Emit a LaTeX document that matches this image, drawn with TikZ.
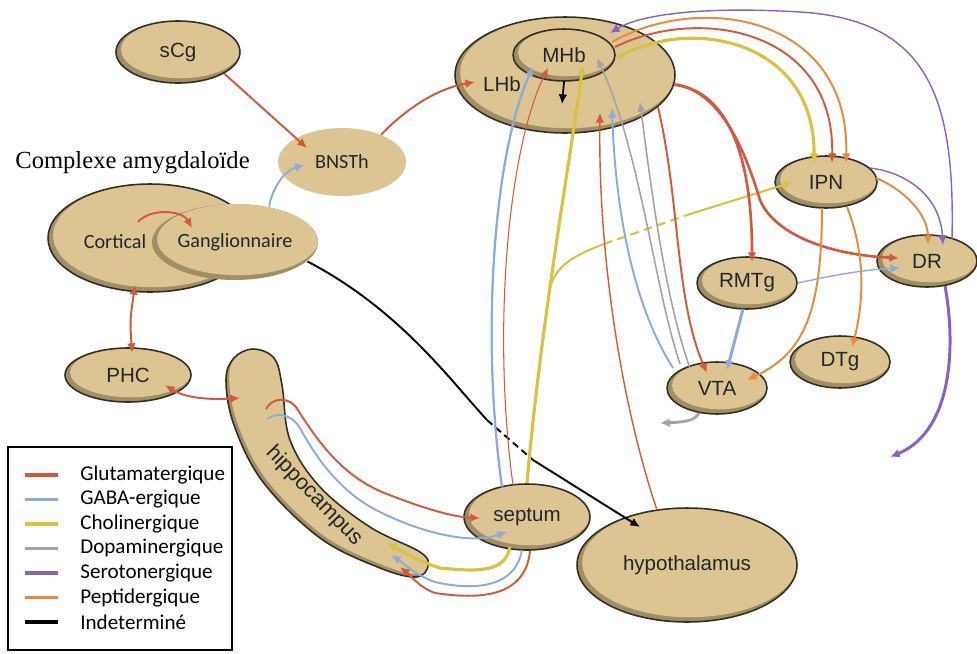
\documentclass[tikz,border=0pt]{standalone}
\usepackage{fontspec}
\newfontfamily\arialf{Liberation Sans}
\newfontfamily\calibf{Carlito}
\newfontfamily\timesf{Liberation Serif}
\usetikzlibrary{shapes.geometric,arrows.meta,calc}

\definecolor{tanc}{RGB}{220,197,147}
\definecolor{tanshade}{RGB}{160,142,100}
\definecolor{rimc}{RGB}{50,46,38}
\definecolor{glutc}{RGB}{212,88,58}
\definecolor{gabac}{RGB}{141,171,216}
\definecolor{cholc}{RGB}{214,195,62}
\definecolor{dopac}{RGB}{163,163,163}
\definecolor{seroc}{RGB}{136,98,194}
\definecolor{peptc}{RGB}{230,138,60}

\newcommand{\hippath}{plot[smooth cycle, tension=0.6] coordinates {(253,349) (274,358) (282,385) (290,440) (320,487) (370,527) (420,552) (428,566) (416,577) (380,568) (320,538) (263,482) (234,425) (226,380) (234,358)}}

\begin{document}
\begin{tikzpicture}[x=0.02cm, y=-0.02cm, >={Latex[length=5.5pt,width=5pt]}]
    \tikzset{region/.style={ellipse, draw=rimc, line width=0.9pt, fill=tanshade, inner sep=0pt,
        font=\arialf\fontsize{11.7}{13}\selectfont, text=black!85,
        path picture={
          \path (path picture bounding box.south west) coordinate (pa)
                (path picture bounding box.north east) coordinate (pb);
          \fill[tanc] let \p1=($(pb)-(pa)$) in
            ($(pa)!0.5!(pb)+(1.6pt,1.4pt)$) ellipse ({0.5*\x1-1.3pt} and {0.5*\y1-1.3pt});}}}
    \tikzset{flat/.style={ellipse, fill=tanc, inner sep=0pt, text=black!85,
        font=\calibf\fontsize{11.5}{13}\selectfont}}
    \tikzset{lbl/.style={inner sep=1pt, text=black!85, font=\arialf\fontsize{11.7}{13}\selectfont}}
    \tikzset{glut/.style={draw=glutc, line width=1.1pt}}
    \tikzset{gaba/.style={draw=gabac, line width=1.1pt}}
    \tikzset{chol/.style={draw=cholc, line width=1.8pt}}
    \tikzset{dopa/.style={draw=dopac, line width=0.9pt}}
    \tikzset{sero/.style={draw=seroc, line width=0.8pt}}
    \tikzset{pept/.style={draw=peptc, line width=1.1pt}}
    \tikzset{indet/.style={draw=black, line width=1.1pt}}
    \tikzset{legtext/.style={anchor=west, inner sep=0pt, font=\calibf\fontsize{12}{14}\selectfont}}
    \useasboundingbox (0,0) rectangle (977,653);

    % regions
    \node[region, minimum width=2.48cm, minimum height=1.24cm] (sCg) at (178,52) {sCg};
    \node[flat, minimum width=2.56cm, minimum height=1.36cm] (BNSTh) at (342,162) {BNSTh};
    \node[region, minimum width=4.08cm, minimum height=2.16cm] (amyg) at (150,238) {};
    \node[region, draw=none, font=\calibf\fontsize{11.5}{13}\selectfont,
          minimum width=3.32cm, minimum height=1.52cm] (gang) at (235,242) {Ganglionnaire};
    \node[lbl, font=\calibf\fontsize{11.5}{13}\selectfont] (cort) at (115,242) {Cortical};
    \node[anchor=base west, inner sep=0pt,
          font=\timesf\fontsize{14}{16}\selectfont] (amygtitle) at (15,168) {Complexe amygdaloïde};
    \node[region, minimum width=2.52cm, minimum height=1.08cm] (PHC) at (128,375) {PHC};

    \fill[tanshade] \hippath;
    \begin{scope}
      \clip \hippath;
      \fill[tanc, shift={(1.8pt,1.6pt)}] \hippath;
    \end{scope}
    \draw[rimc, line width=0.9pt] \hippath;
    \node[lbl, rotate=-46, font=\arialf\fontsize{12.3}{14}\selectfont] (hippo) at (314,496) {hippocampus};

    \node[region, minimum width=2.52cm, minimum height=1.32cm] (septum) at (527,517) {septum};
    \node[region, minimum width=4.4cm, minimum height=2.28cm] (hypo) at (687,565) {hypothalamus};
    \node[region, minimum width=4.4cm, minimum height=2.32cm] (LHb) at (565,75) {};
    \node[region, minimum width=2.04cm, minimum height=1.04cm] (MHb) at (564,55) {MHb};
    \node[lbl] (lhbname) at (502,84) {LHb};
    \node[region, minimum width=2.04cm, minimum height=1.04cm] (IPN) at (826,182) {IPN};
    \node[region, minimum width=2.0cm, minimum height=1.04cm] (DR) at (927,261) {DR};
    \node[region, minimum width=2.0cm, minimum height=1.04cm] (RMTg) at (747,283) {RMTg};
    \node[region, minimum width=2.0cm, minimum height=1.04cm] (DTg) at (840,362) {DTg};
    \node[region, minimum width=2.0cm, minimum height=1.04cm] (VTA) at (717,388) {VTA};

    \coordinate (hipin) at (240,398);
    \coordinate (hiptopr) at (266,409);
    \coordinate (hiptopb) at (267,419);
    \coordinate (hipy) at (387,543);
    \coordinate (hipb) at (391,555);
    \coordinate (hipr) at (400,567);
    \coordinate (serout) at (890,457);
    \coordinate (dopout) at (660,423);

    % amygdala and BNSTh
    \draw[glut, ->] (sCg.-25) -- ($(BNSTh)+(-35,-14)$);
    \draw[glut, ->] (BNSTh.35) .. controls (410,105) and (440,88) .. ($(LHb)+(-90,7)$);
    \draw[gaba, ->] (gang.46) .. controls (272,188) and (285,170) .. ($(BNSTh)+(-37,3)$);
    \draw[glut, ->] ($(amyg)+(-12,-16)$) .. controls (150,208) and (182,210) .. ($(gang)+(-43,-14)$);
    \draw[glut, <->] ($(PHC)+(4,-22)$) .. controls (130,320) .. ($(amyg)+(-15,47)$);
    \draw[glut, <->] ($(PHC)+(37,10)$) .. controls (185,398) and (210,400) .. (hipin);

    % hippocampus and septum
    \draw[glut, ->] (hiptopr) .. controls (272,397) and (290,396) .. (298,410)
        .. controls (320,445) and (345,478) .. (387,494)
        .. controls (415,505) and (450,517) .. ($(septum)+(-47,1)$);
    \draw[gaba, ->] (hiptopb) .. controls (275,413) and (290,412) .. (300,428)
        .. controls (320,465) and (345,495) .. (380,512)
        .. controls (420,532) and (470,545) .. ($(septum)+(-20,15)$);
    \draw[chol, ->] ($(septum)+(-17,30)$) .. controls (505,572) and (480,572) .. (440,568)
        .. controls (420,562) and (400,550) .. (hipy);
    \draw[gaba, ->] ($(septum)+(-5,33)$) .. controls (515,590) and (470,590) .. (435,582)
        .. controls (415,575) and (402,562) .. (hipb);
    \draw[glut, ->] ($(septum)+(3,34)$) .. controls (525,602) and (470,598) .. (435,593)
        .. controls (420,588) and (410,575) .. (hipr);

    % black projection
    \coordinate (bk1) at (487,420);
    \coordinate (bk2) at (533,460);
    \draw[indet] (gang.-15) .. controls (400,310) and (450,380) .. (bk1);
    \draw[indet, dash pattern=on 4pt off 2.5pt] (bk1) -- (bk2);
    \draw[indet, ->] (bk2) -- ($(hypo)+(-47,-38)$);

    % septum to habenula
    \draw[gaba, line width=1.3pt, ->] ($(septum)+(-25,-30)$) .. controls (480,330) and (495,150) .. ($(MHb)+(-31,12)$);
    \draw[glut, line width=0.6pt, ->] ($(septum)+(-14,-32)$) .. controls (492,330) and (508,150) .. ($(MHb)+(-16,13)$);
    \draw[chol, ->] (septum.north) .. controls (540,330) and (570,160)
        .. coordinate[pos=0.42] (chbr) ($(MHb)+(19,10)$);
    \coordinate (ch1) at (604,244);
    \coordinate (ch2) at (690,214);
    \draw[chol, line width=1.2pt] (chbr) .. controls (556,265) and (575,255) .. (ch1);
    \draw[chol, line width=1.2pt, dash pattern=on 5pt off 3pt] (ch1) -- (ch2);
    \draw[chol, line width=1.2pt, ->] (ch2) -- ($(IPN)+(-33,0)$);

    % VTA and hypothalamus to habenula
    \draw[glut, line width=0.8pt, ->] ($(hypo)+(-30,-55)$) .. controls (620,400) and (598,250) .. ($(LHb)+(35,38)$);
    \draw[gaba, ->] ($(VTA)+(-44,-20)$) .. controls (630,300) and (615,200) .. ($(LHb)+(47,33)$);
    \draw[dopa, ->] ($(VTA)+(-37,-24)$) .. controls (655,290) and (640,150) .. ($(MHb)+(33,3)$);
    \draw[dopa, ->] ($(VTA)+(-27,-20)$) .. controls (665,300) and (650,180) .. ($(LHb)+(75,27)$);
    \draw[glut, ->] (LHb.-19) .. controls (680,200) and (675,300) .. ($(VTA)+(-10,-15)$);

    % habenula outputs
    \draw[glut, line width=1.5pt, ->] (LHb.-5) .. controls (720,90) and (752,140) .. ($(RMTg)+(5,-21)$);
    \draw[glut, line width=1.5pt, ->] (LHb.-5) .. controls (720,90) and (745,150) .. (760,200)
        .. controls (775,235) and (830,255) .. ($(DR)+(-28,-3)$);
    \draw[chol, ->] ($(MHb)+(53,3)$) .. controls (690,15) and (815,40) .. ($(IPN)+(-12,-19)$);
    \draw[glut, ->] ($(MHb)+(51,-8)$) .. controls (700,5) and (835,30) .. ($(IPN)+(6,-19)$);
    \draw[pept, ->] ($(MHb)+(48,-13)$) .. controls (700,-8) and (850,15) .. ($(IPN)+(20,-19)$);
    \draw[sero, ->] ($(DR)+(25,-22)$) .. controls (955,100) and (930,20) .. (800,12)
        .. controls (700,6) and (640,15) .. ($(LHb)+(45,-42)$);

    % IPN, RMTg, DR
    \draw[sero, ->] ($(IPN)+(44,-14)$) .. controls (905,172) and (940,195) .. ($(DR)+(16,-16)$);
    \draw[pept, ->] ($(IPN)+(50,-4)$) .. controls (905,190) and (928,215) .. ($(DR)+(1,-16)$);
    \draw[pept, ->] ($(IPN)+(-4,26)$) .. controls (822,320) and (800,355) .. ($(VTA)+(30,-8)$);
    \draw[pept, ->] ($(IPN)+(21,25)$) .. controls (868,260) and (862,310) .. ($(DTg)+(12,-15)$);
    \draw[gaba, line width=1.7pt, ->] ($(RMTg)+(-4,26)$) -- ($(VTA)+(10,-18)$);
    \draw[gaba, line width=0.8pt, ->] (RMTg.east) .. controls (830,276) and (860,270) .. ($(DR)+(-27,7)$);
    \draw[sero, line width=1.7pt, ->] ($(DR)+(18,25)$) .. controls (955,340) and (955,430) .. (serout);
    \draw[dopa, line width=1.6pt, ->] ($(VTA)+(-18,25)$) .. controls (695,420) and (688,422) .. (dopout);
    \draw[indet, line width=1pt, ->] (MHb.south) -- ($(LHb)+(-3,29)$);

    % legend
    \draw[line width=1pt] (8,447) rectangle (232,650);
    \draw[glutc, line width=2pt] (25,475) -- (58,475);
    \draw[gabac, line width=2pt] (25,499.5) -- (58,499.5);
    \draw[cholc, line width=2pt] (25,524) -- (58,524);
    \draw[dopac, line width=2pt] (25,548.5) -- (58,548.5);
    \draw[seroc, line width=2pt] (25,573) -- (58,573);
    \draw[peptc, line width=2pt] (25,597.5) -- (58,597.5);
    \draw[black, line width=2pt] (25,622) -- (58,622);
    \node[legtext] (lgglut) at (80,475) {Glutamatergique};
    \node[legtext] (lggaba) at (80,499.5) {GABA-ergique};
    \node[legtext] (lgchol) at (80,524) {Cholinergique};
    \node[legtext] (lgdopa) at (80,548.5) {Dopaminergique};
    \node[legtext] (lgsero) at (80,573) {Serotonergique};
    \node[legtext] (lgpept) at (80,597.5) {Peptidergique};
    \node[legtext] (lgindet) at (80,622) {Indeterminé};
\end{tikzpicture}
\end{document}
